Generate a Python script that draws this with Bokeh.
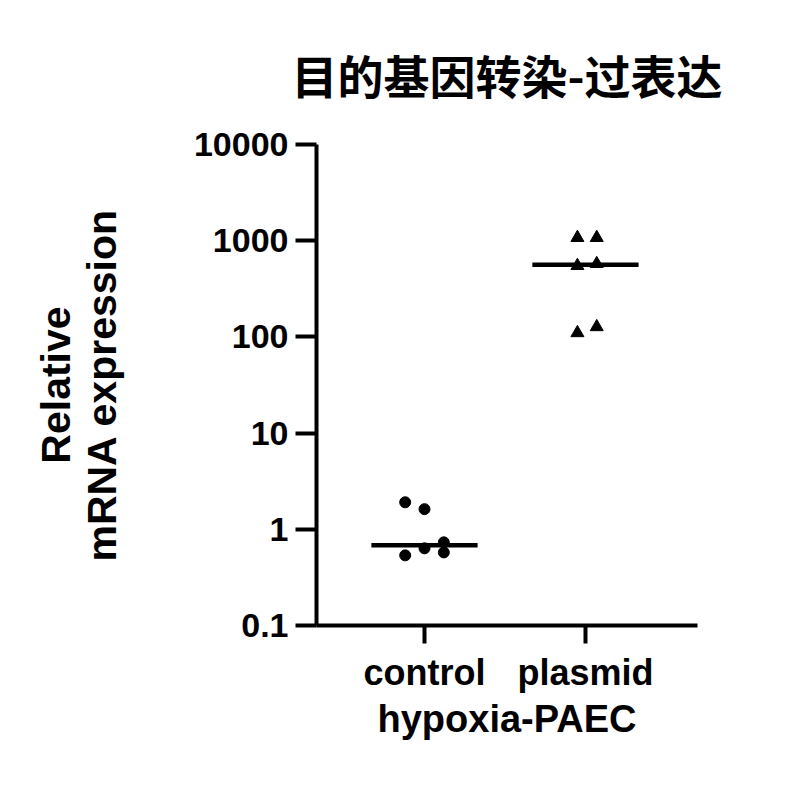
import numpy as np
from bokeh.plotting import figure
from bokeh.models import FixedTicker, Title
from bokeh.embed import file_html
from bokeh.resources import INLINE

# ---- data ----
categories = ["control", "plasmid"]
control_values = [1.91, 1.62, 0.536, 0.634, 0.732, 0.575]
plasmid_values = [1074, 1074, 549, 576, 110, 127]
y_ticks = [0.1, 1, 10, 100, 1000, 10000]
y_tick_labels = ["0.1", "1", "10", "100", "1000", "10000"]
title_text = "目的基因转染-过表达"
x_label = "hypoxia-PAEC"
y_label = "Relative\nmRNA expression"

# layout constants (point spreading within a column)
control_jitter = [-0.12, 0.0, -0.12, 0.0, 0.12, 0.12]
plasmid_jitter = [-0.05, 0.07, -0.05, 0.07, -0.05, 0.07]

FONT = "Liberation Sans"

p = figure(width=790, height=770, output_backend="svg", toolbar_location=None,
           y_axis_type="log", x_range=(0.329, 2.696), y_range=(0.1, 10000),
           min_border_left=316, min_border_top=144, min_border_right=93,
           min_border_bottom=145)
p.outline_line_color = None
p.xgrid.visible = False
p.ygrid.visible = False
p.background_fill_color = "white"
p.border_fill_color = "white"

xs_c = [1 + j for j in control_jitter]
xs_p = [2 + j for j in plasmid_jitter]
p.scatter(xs_c, control_values, marker="circle", size=11, color="black")
p.scatter(xs_p, plasmid_values, marker="triangle", size=13, color="black")

medians = [float(np.median(control_values)), float(np.median(plasmid_values))]
half = 0.33
p.segment(x0=[1 - half, 2 - half], x1=[1 + half, 2 + half], y0=medians, y1=medians,
          line_color="black", line_width=4.5)

# axes
for ax in (p.xaxis[0], p.yaxis[0]):
    ax.axis_line_width = 4
    ax.axis_line_color = "black"
    ax.major_tick_line_width = 4
    ax.major_tick_line_color = "black"
    ax.minor_tick_line_color = None
    ax.major_tick_in = 0
    ax.major_label_text_font = FONT
    ax.major_label_text_font_style = "bold"
    ax.major_label_text_color = "black"
    ax.axis_label_text_font = FONT
    ax.axis_label_text_font_style = "bold"
    ax.axis_label_text_color = "black"

p.yaxis.ticker = FixedTicker(ticks=y_ticks)
p.yaxis.major_label_overrides = {t: l for t, l in zip(y_ticks, y_tick_labels)}
p.yaxis.major_tick_out = 21
p.yaxis.major_label_standoff = 7
p.yaxis.major_label_text_font_size = "34px"
p.yaxis.axis_label = y_label
p.yaxis.axis_label_text_font_size = "41px"
p.yaxis.axis_label_text_line_height = 1.0
p.yaxis.axis_label_standoff = 66

p.xaxis.ticker = FixedTicker(ticks=[1, 2])
p.xaxis.major_label_overrides = {i + 1: c for i, c in enumerate(categories)}
p.xaxis.major_tick_out = 18
p.xaxis.major_label_standoff = 8
p.xaxis.major_label_text_font_size = "36px"
p.xaxis.axis_label = x_label
p.xaxis.axis_label_text_font_size = "38px"
p.xaxis.axis_label_standoff = 2

p.title = Title(text=title_text, align="center", vertical_align="top",
                text_font="Noto Sans CJK SC", text_font_style="bold",
                text_font_size="46px", text_color="black", standoff=72)

open("out.html", "w").write(file_html(p, INLINE))
